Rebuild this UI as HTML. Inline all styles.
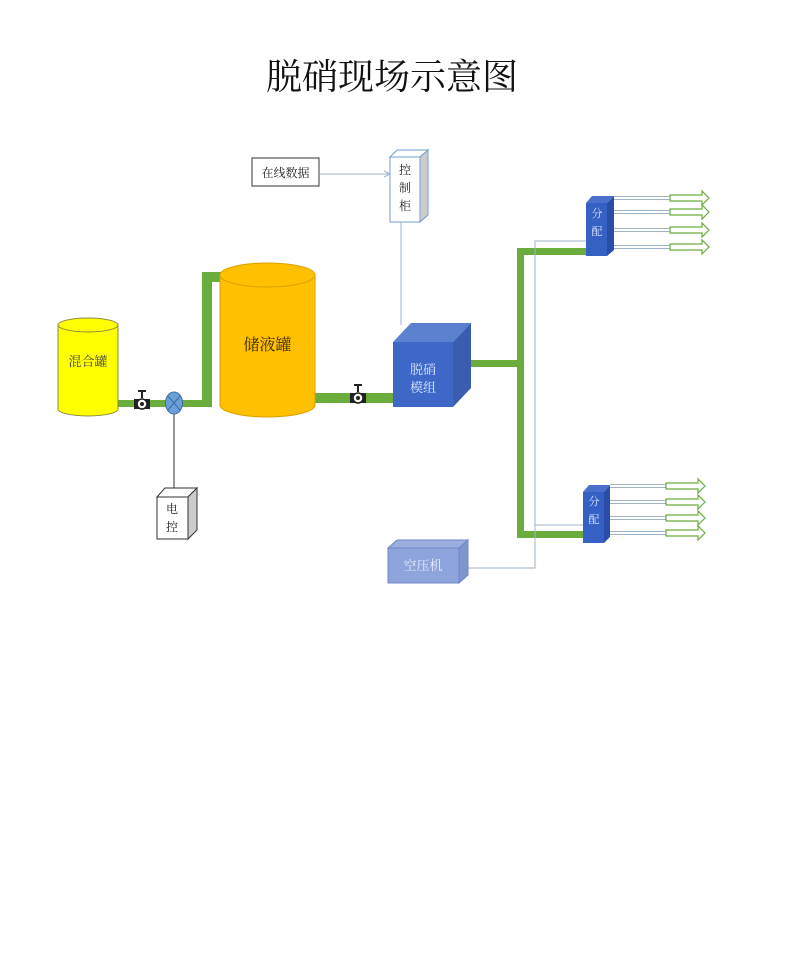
<!DOCTYPE html>
<html><head><meta charset="utf-8"><style>
html,body{margin:0;padding:0;background:#fff;}
svg{display:block;}
text{font-family:"Liberation Serif","Noto Serif CJK SC",serif;}
</style></head><body>
<svg width="790" height="969" viewBox="0 0 790 969" xmlns="http://www.w3.org/2000/svg">
<text x="392" y="89" font-size="36" text-anchor="middle" font-family="'Liberation Sans','Noto Sans CJK SC',sans-serif" fill="#111">脱硝现场示意图</text>

<!-- online data -->
<rect x="252" y="158" width="67" height="28" fill="#fff" stroke="#333" stroke-width="1"/>
<text x="285.5" y="177" font-size="12" text-anchor="middle" fill="#222">在线数据</text>
<line x1="319" y1="174" x2="388" y2="174" stroke="#9db3c8" stroke-width="1"/>
<path d="M384,171 L390,174 L384,177" fill="none" stroke="#9db3c8"/>

<!-- control cabinet -->
<polygon points="390,157 397,150 428,150 420,157" fill="#fff" stroke="#6fa0d0"/>
<polygon points="420,157 428,150 428,215 420,222" fill="#ccc" stroke="#6fa0d0"/>
<rect x="390" y="157" width="30" height="65" fill="#fff" stroke="#6fa0d0"/>
<text x="405" y="174" font-size="12" text-anchor="middle" fill="#222">控</text>
<text x="405" y="192" font-size="12" text-anchor="middle" fill="#222">制</text>
<text x="405" y="210" font-size="12" text-anchor="middle" fill="#222">柜</text>
<line x1="401" y1="222" x2="401" y2="325" stroke="#9db3c8"/>

<!-- pipes -->
<g fill="#6aad3d">
<rect x="118" y="400" width="94" height="7"/>
<rect x="202" y="272" width="10" height="135"/>
<rect x="202" y="272" width="22" height="10"/>
<rect x="315" y="393" width="80" height="10"/>
<rect x="469" y="360" width="52" height="7"/>
<rect x="517" y="248" width="7" height="290"/>
<rect x="517" y="248" width="70" height="7"/>
<rect x="517" y="531" width="67" height="7"/>
</g>

<!-- mixing tank -->
<path d="M58,325 L58,409 A30,7 0 0 0 118,409 L118,325 Z" fill="#ffff00" stroke="#8a8a40"/>
<ellipse cx="88" cy="325" rx="30" ry="7" fill="#ffff00" stroke="#8a8a40"/>
<text x="88" y="366" font-size="13" text-anchor="middle" fill="#444">混合罐</text>

<!-- storage tank -->
<path d="M220,275 L220,405 A47.5,12 0 0 0 315,405 L315,275 Z" fill="#ffc000" stroke="#d9a000"/>
<ellipse cx="267.5" cy="275" rx="47.5" ry="12" fill="#ffc000" stroke="#d9a000"/>
<text x="267.5" y="350" font-size="16" text-anchor="middle" fill="#3a2a00">储液罐</text>

<!-- valve 1 -->
<g transform="translate(142,404)">
<line x1="0" y1="-13" x2="0" y2="-6" stroke="#222" stroke-width="2"/>
<line x1="-4" y1="-13" x2="4" y2="-13" stroke="#222" stroke-width="2"/>
<rect x="-8" y="-5" width="16" height="10" fill="#222"/>
<circle cx="0" cy="0" r="5" fill="#fff" stroke="#222" stroke-width="1.5"/>
<circle cx="0" cy="0" r="2" fill="#222"/>
</g>
<!-- valve 2 -->
<g transform="translate(358,398)">
<line x1="0" y1="-13" x2="0" y2="-6" stroke="#222" stroke-width="2"/>
<line x1="-4" y1="-13" x2="4" y2="-13" stroke="#222" stroke-width="2"/>
<rect x="-8" y="-5" width="16" height="10" fill="#222"/>
<circle cx="0" cy="0" r="5" fill="#fff" stroke="#222" stroke-width="1.5"/>
<circle cx="0" cy="0" r="2" fill="#222"/>
</g>
<!-- electric valve -->
<line x1="174" y1="414" x2="174" y2="490" stroke="#333"/>
<ellipse cx="174" cy="403" rx="8.5" ry="11" fill="#6a9fd8" stroke="#3b6ea5"/>
<line x1="168" y1="396" x2="180" y2="410" stroke="#3b6ea5"/>
<line x1="180" y1="396" x2="168" y2="410" stroke="#3b6ea5"/>

<!-- electric control box -->
<polygon points="157,497 165,488 197,488 188,497" fill="#fff" stroke="#333"/>
<polygon points="188,497 197,488 197,530 188,539" fill="#ccc" stroke="#333"/>
<rect x="157" y="497" width="31" height="42" fill="#fff" stroke="#333"/>
<text x="172" y="513" font-size="12" text-anchor="middle" fill="#222">电</text>
<text x="172" y="531" font-size="12" text-anchor="middle" fill="#222">控</text>

<!-- denitration module -->
<polygon points="393,342 411,323 471,323 453,342" fill="#5b80d0"/>
<polygon points="453,342 471,323 471,388 453,407" fill="#3a5db0"/>
<rect x="393" y="342" width="60" height="65" fill="#3d68c8"/>
<text x="423" y="374" font-size="13" text-anchor="middle" fill="#dce6ff">脱硝</text>
<text x="423" y="392" font-size="13" text-anchor="middle" fill="#dce6ff">模组</text>

<!-- thin air lines -->
<g stroke="#9db3c8" fill="none">
<polyline points="587,241 535,241 535,568 468,568"/>
<line x1="535" y1="525" x2="583" y2="525"/>
</g>

<!-- distributors -->
<polygon points="586,203 592,196 614,196 607,203" fill="#4a70cc"/>
<polygon points="607,203 614,196 614,250 607,256" fill="#2a4ea8"/>
<rect x="586" y="203" width="21" height="53" fill="#3560c4"/>
<text x="597" y="217" font-size="11" text-anchor="middle" fill="#dce6ff">分</text>
<text x="597" y="235" font-size="11" text-anchor="middle" fill="#dce6ff">配</text>

<polygon points="583,492 589,485 610,485 604,492" fill="#4a70cc"/>
<polygon points="604,492 610,485 610,537 604,543" fill="#2a4ea8"/>
<rect x="583" y="492" width="21" height="51" fill="#3560c4"/>
<text x="594" y="505" font-size="11" text-anchor="middle" fill="#dce6ff">分</text>
<text x="594" y="523" font-size="11" text-anchor="middle" fill="#dce6ff">配</text>

<!-- outlet arrows -->
<defs>
<g id="arr">
<line x1="0" y1="-1.5" x2="56" y2="-1.5" stroke="#9db3c8"/>
<line x1="0" y1="1.5" x2="56" y2="1.5" stroke="#9db3c8"/>
<path d="M56,-3 L88,-3 L88,-7 L95,0 L88,7 L88,3 L56,3 Z" fill="#fff" stroke="#6aad3d" stroke-width="1.2"/>
</g>
</defs>
<use href="#arr" x="614" y="198"/>
<use href="#arr" x="614" y="212"/>
<use href="#arr" x="614" y="230"/>
<use href="#arr" x="614" y="247"/>
<use href="#arr" x="610" y="486"/>
<use href="#arr" x="610" y="502"/>
<use href="#arr" x="610" y="518"/>
<use href="#arr" x="610" y="533"/>

<!-- air compressor -->
<polygon points="388,548 397,540 468,540 459,548" fill="#9aaee0" stroke="#7088c8"/>
<polygon points="459,548 468,540 468,575 459,583" fill="#7f95d0" stroke="#7088c8"/>
<rect x="388" y="548" width="71" height="35" fill="#8ea4dc" stroke="#7088c8"/>
<text x="423" y="570" font-size="13" text-anchor="middle" fill="#e8eeff">空压机</text>
</svg>
</body></html>
